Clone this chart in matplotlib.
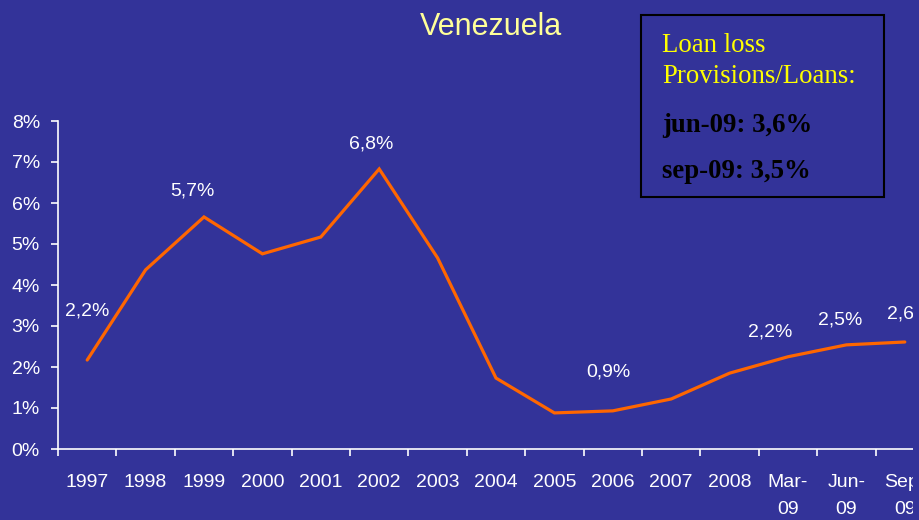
import matplotlib.pyplot as plt
from matplotlib.patches import Rectangle

BG = "#333399"
LINE = "#FF6600"

periods = ["1997", "1998", "1999", "2000", "2001", "2002", "2003", "2004",
           "2005", "2006", "2007", "2008", "Mar-\n09", "Jun-\n09", "Sep-\n09"]
provisions = [2.17, 4.37, 5.66, 4.76, 5.17, 6.83, 4.66, 1.73,
              0.88, 0.93, 1.22, 1.85, 2.25, 2.54, 2.61]

# labelled points: index, text, offset of the label in pixels
labelled = [(0, "2,2%", (0, 41)), (2, "5,7%", (-12, 17)), (5, "6,8%", (-8, 16)),
            (9, "0,9%", (-4, 30)), (12, "2,2%", (-18, 16)), (13, "2,5%", (-6, 16)),
            (14, "2,6%", (4, 19))]

yticks = [0, 1, 2, 3, 4, 5, 6, 7, 8]
ytick_labels = [f"{v}%" for v in yticks]

W, H = 919, 520
fig = plt.figure(figsize=(W / 100, H / 100), dpi=100, facecolor=BG)
ax = fig.add_axes([58 / W, 1 - 449 / H, (934 - 58) / W, (449 - 121) / H])
ax.set_facecolor(BG)

x = list(range(len(periods)))
ax.plot(x, provisions, color=LINE, lw=2.3, solid_capstyle="round", solid_joinstyle="miter")

for i, txt, (dx, dy) in labelled:
    ax.annotate(txt, (x[i], provisions[i]), xytext=(dx * 0.72, dy * 0.72),
                textcoords="offset points", ha="center", va="bottom",
                color="white", fontsize=14, family="Liberation Sans")

ax.set_xlim(-0.5, len(periods) - 0.5)
ax.set_ylim(0, 8)
ax.set_yticks(yticks)
ax.set_yticklabels(ytick_labels)
ax.set_xticks([i - 0.5 for i in range(len(periods))])
ax.set_xticklabels([])
ax.set_xticks(x, minor=True)
ax.set_xticklabels(periods, minor=True, linespacing=1.75)

for side in ("top", "right"):
    ax.spines[side].set_visible(False)
for side in ("left", "bottom"):
    ax.spines[side].set_color("white")
    ax.spines[side].set_linewidth(1.2)

ax.tick_params(axis="y", colors="white", labelsize=14, length=5, width=1.2, pad=8)
ax.tick_params(axis="x", which="major", colors="white", length=5, width=1.2, direction="out")
ax.tick_params(axis="x", which="minor", colors="white", labelsize=14, length=0, pad=18)
for lab in ax.get_yticklabels() + ax.get_xticklabels(minor=True):
    lab.set_family("Liberation Sans")
    lab.set_color("white")
for lab in ax.get_xticklabels(minor=True):
    lab.set_verticalalignment("top")

fig.text(491 / W, 1 - 27 / H, "Venezuela", color="#FFFF99", fontsize=22,
         family="Liberation Sans", ha="center", va="center")

# summary box
fig.patches.append(Rectangle((641 / W, 1 - 197 / H), (884 - 641) / W, (197 - 15) / H,
                             transform=fig.transFigure, facecolor=BG,
                             edgecolor="black", lw=1.5, zorder=5))
fig.text(662 / W, 1 - 52 / H, "Loan loss", color="#FFFF00", fontsize=19.3,
         family="Liberation Serif", va="baseline", zorder=6)
fig.text(662 / W, 1 - 83 / H, "Provisions/Loans:", color="#FFFF00", fontsize=19.3,
         family="Liberation Serif", va="baseline", zorder=6)
fig.text(662 / W, 1 - 132 / H, "jun-09: 3,6%", color="black", fontsize=19.3,
         family="Liberation Serif", weight="bold", va="baseline", zorder=6)
fig.text(662 / W, 1 - 178 / H, "sep-09: 3,5%", color="black", fontsize=19.3,
         family="Liberation Serif", weight="bold", va="baseline", zorder=6)

# plain strip along the right edge
fig.patches.append(Rectangle((913 / W, 0), 1, 1, transform=fig.transFigure,
                             facecolor=BG, edgecolor="none", zorder=10))

fig.savefig("out.png", dpi=100, facecolor=BG)
